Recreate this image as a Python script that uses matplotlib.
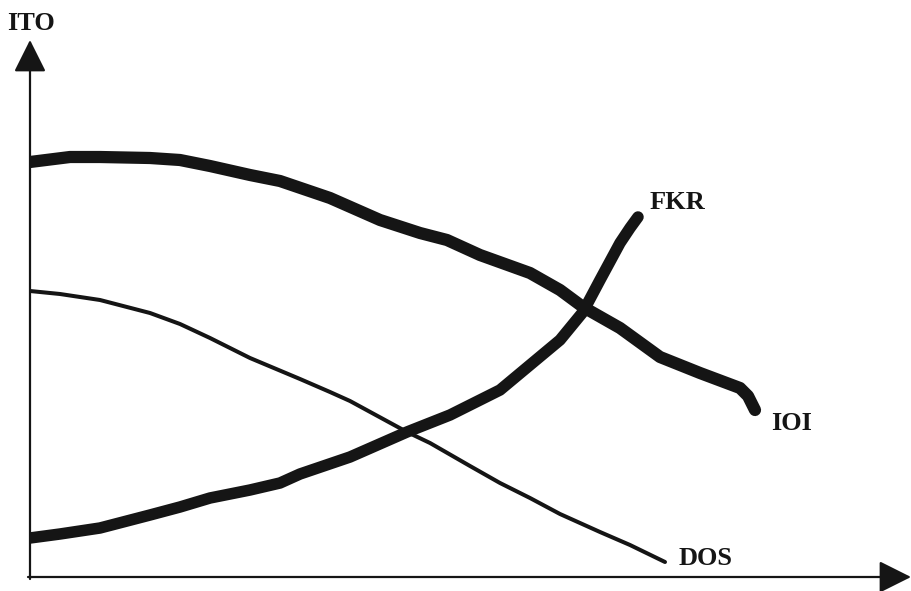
import matplotlib
matplotlib.use("Agg")
import matplotlib.pyplot as plt
from matplotlib.patches import FancyArrowPatch

# Data (x measured from the vertical axis, y measured up from the horizontal axis)
ioi_x = [0, 40, 70, 120, 150, 180, 220, 250, 300, 350, 390, 417, 450, 500, 530, 553, 590, 630, 670, 710, 718, 725]
ioi_y = [415, 420, 420, 419, 417, 411, 402, 396, 379, 357, 344, 337, 322, 304, 287, 270, 249, 220, 204, 189, 181, 167]

fkr_x = [0, 30, 70, 120, 150, 180, 220, 250, 270, 320, 377, 420, 470, 500, 530, 553, 570, 590, 600, 608]
fkr_y = [39, 43, 49, 62, 70, 79, 87, 94, 103, 120, 145, 162, 187, 212, 237, 265, 297, 334, 349, 360]

dos_x = [0, 30, 70, 120, 150, 180, 220, 270, 300, 320, 377, 400, 440, 470, 500, 530, 570, 600, 635]
dos_y = [286, 283, 277, 264, 253, 239, 219, 198, 185, 176, 145, 134, 111, 94, 79, 63, 45, 32, 15]

y_label = "ITO"
series_labels = ["IOI", "FKR", "DOS"]

fig = plt.figure(figsize=(9.12, 5.91), dpi=100)
fig.patch.set_facecolor("white")
ax = fig.add_axes([30 / 912, 14 / 591, 882 / 912, 577 / 591])
ax.set_xlim(0, 882)
ax.set_ylim(0, 577)
ax.axis("off")

ink = "#151515"
ax.plot(ioi_x, ioi_y, color=ink, lw=8.8, solid_capstyle="round", solid_joinstyle="round")
ax.plot(fkr_x, fkr_y, color=ink, lw=8.3, solid_capstyle="round", solid_joinstyle="round")
ax.plot(dos_x, dos_y, color=ink, lw=2.9, solid_capstyle="round", solid_joinstyle="round")

# axes arrows
arr_kw = dict(arrowstyle="-|>,head_length=1.0,head_width=0.5", mutation_scale=20,
              color=ink, lw=1.6, shrinkA=0, shrinkB=0, clip_on=False)
ax.add_patch(FancyArrowPatch((0, -2), (0, 537), **arr_kw))
ax.add_patch(FancyArrowPatch((-2, 0), (881, 0), **arr_kw))

font = dict(family="Liberation Serif", fontsize=19, fontweight="bold", color=ink, clip_on=False)
ax.text(-23, 547, y_label, ha="left", va="baseline", **font)
ax.text(741, 147, series_labels[0], ha="left", va="baseline", **font)
ax.text(620, 368, series_labels[1], ha="left", va="baseline", **font)
ax.text(649, 12, series_labels[2], ha="left", va="baseline", **font)

fig.savefig("out.png", dpi=100, facecolor="white")
